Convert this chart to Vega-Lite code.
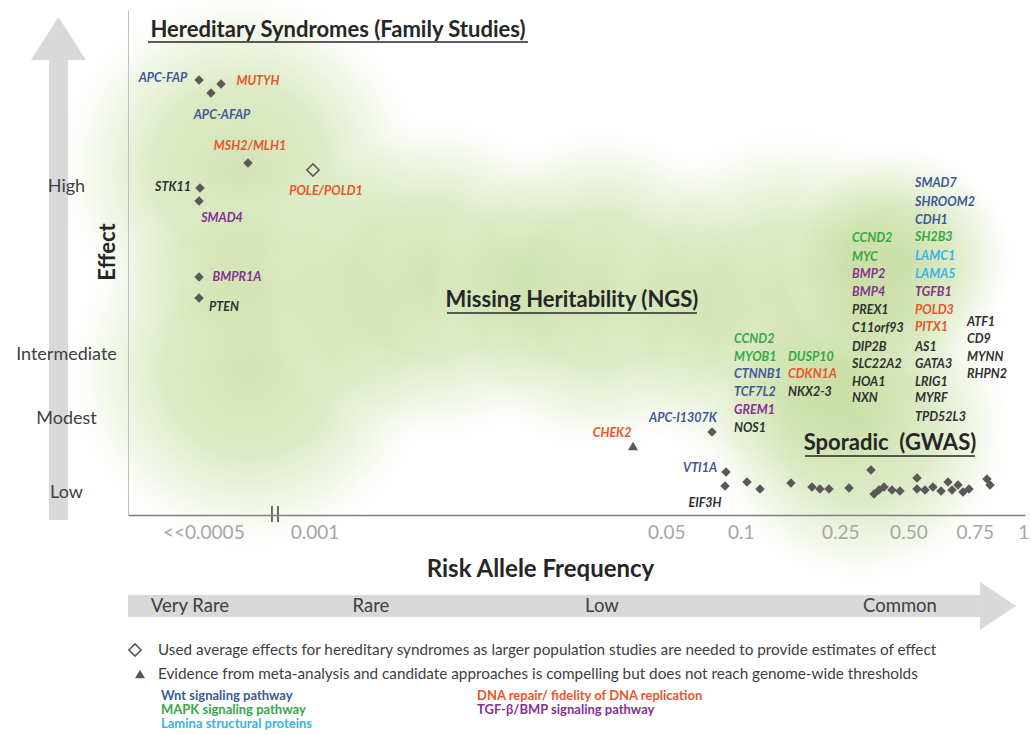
{
  "$schema": "https://vega.github.io/schema/vega-lite/v6.json",
  "width": 897,
  "height": 505,
  "autosize": {"type": "none"},
  "padding": {"left": 128, "top": 10, "right": 6, "bottom": 220},
  "background": "white",
  "config": {"view": {"stroke": null}, "font": "Lato", "text": {"font": "Lato"}},
  "datasets": {
    "blobs": [
      {"x": -8.7, "x2": 33.67, "y": 105.94, "y2": 30.69},
      {"x": -7.58, "x2": 34.78, "y": 66.34, "y2": -8.91},
      {"x": 14.72, "x2": 52.62, "y": 80.2, "y2": 12.87},
      {"x": 33.67, "x2": 71.57, "y": 78.22, "y2": 10.89},
      {"x": 52.62, "x2": 94.98, "y": 78.22, "y2": 2.97},
      {"x": 63.77, "x2": 99.44, "y": 48.51, "y2": -14.85},
      {"x": 72.69, "x2": 99.44, "y": 74.26, "y2": 26.73}
    ],
    "shafts": [
      {"part": "effect arrow", "x": -8.81, "x2": -6.69, "y": 90.1, "y2": -0.99},
      {"part": "frequency arrow", "x": 0, "x2": 94.98, "y": -15.84, "y2": -20.2}
    ],
    "heads": [
      {"dir": "up", "x": -7.75, "y": 94.36},
      {"dir": "right", "x": 96.99, "y": -18.02}
    ],
    "breaks": [
      {"x": 16.05, "y": 1.78, "y2": -1.39},
      {"x": 16.72, "y": 1.78, "y2": -1.39}
    ],
    "underlines": [
      {"x": 2.23, "x2": 44.59, "y": 93.66},
      {"x": 35.56, "x2": 63.43, "y": 40.0},
      {"x": 75.47, "x2": 94.43, "y": 11.68}
    ],
    "sections": [
      {"label": "Hereditary Syndromes (Family Studies)", "x": 23.41, "y": 96.04},
      {"label": "Missing Heritability (NGS)", "x": 49.5, "y": 42.57},
      {"label": "Sporadic\u00a0\u00a0(GWAS)", "x": 84.95, "y": 14.26}
    ],
    "points": [
      {"gene": "APC-FAP", "kind": "filled", "x": 7.92, "y": 86.14},
      {"gene": "APC-AFAP", "kind": "filled", "x": 9.25, "y": 83.56},
      {"gene": "MUTYH", "kind": "filled", "x": 10.37, "y": 85.35},
      {"gene": "MSH2/MLH1", "kind": "filled", "x": 13.38, "y": 69.7},
      {"gene": "POLE/POLD1", "kind": "open", "x": 20.62, "y": 68.32},
      {"gene": "STK11", "kind": "filled", "x": 8.03, "y": 64.75},
      {"gene": "SMAD4", "kind": "filled", "x": 7.92, "y": 62.18},
      {"gene": "BMPR1A", "kind": "filled", "x": 7.92, "y": 47.13},
      {"gene": "PTEN", "kind": "filled", "x": 7.92, "y": 42.97},
      {"gene": "APC-I1307K", "kind": "filled", "x": 65.11, "y": 16.44},
      {"gene": "CHEK2", "kind": "tri", "x": 56.3, "y": 13.66},
      {"gene": "VTI1A", "kind": "filled", "x": 66.67, "y": 8.51},
      {"gene": "EIF3H", "kind": "filled", "x": 66.56, "y": 5.74},
      {"gene": "GWAS", "kind": "filled", "x": 69.01, "y": 6.53},
      {"gene": "GWAS", "kind": "filled", "x": 70.46, "y": 5.15},
      {"gene": "GWAS", "kind": "filled", "x": 73.91, "y": 6.34},
      {"gene": "GWAS", "kind": "filled", "x": 76.25, "y": 5.54},
      {"gene": "GWAS", "kind": "filled", "x": 77.14, "y": 5.15},
      {"gene": "GWAS", "kind": "filled", "x": 78.15, "y": 5.15},
      {"gene": "GWAS", "kind": "filled", "x": 80.38, "y": 5.35},
      {"gene": "GWAS", "kind": "filled", "x": 82.83, "y": 8.91},
      {"gene": "GWAS", "kind": "filled", "x": 83.17, "y": 4.16},
      {"gene": "GWAS", "kind": "filled", "x": 83.72, "y": 4.95},
      {"gene": "GWAS", "kind": "filled", "x": 84.28, "y": 5.54},
      {"gene": "GWAS", "kind": "filled", "x": 85.17, "y": 4.95},
      {"gene": "GWAS", "kind": "filled", "x": 86.06, "y": 4.75},
      {"gene": "GWAS", "kind": "filled", "x": 87.96, "y": 7.33},
      {"gene": "GWAS", "kind": "filled", "x": 87.96, "y": 5.15},
      {"gene": "GWAS", "kind": "filled", "x": 88.85, "y": 4.95},
      {"gene": "GWAS", "kind": "filled", "x": 89.74, "y": 5.54},
      {"gene": "GWAS", "kind": "filled", "x": 90.64, "y": 4.75},
      {"gene": "GWAS", "kind": "filled", "x": 91.42, "y": 6.53},
      {"gene": "GWAS", "kind": "filled", "x": 91.86, "y": 4.95},
      {"gene": "GWAS", "kind": "filled", "x": 92.53, "y": 5.94},
      {"gene": "GWAS", "kind": "filled", "x": 93.09, "y": 4.55},
      {"gene": "GWAS", "kind": "filled", "x": 93.76, "y": 5.15},
      {"gene": "GWAS", "kind": "filled", "x": 95.76, "y": 7.13},
      {"gene": "GWAS", "kind": "filled", "x": 96.1, "y": 5.94},
      {"gene": "legend", "kind": "open", "x": 0.78, "y": -26.73},
      {"gene": "legend", "kind": "tri", "x": 1.34, "y": -31.49}
    ],
    "annot": [
      {"label": "APC-FAP", "path": "Wnt", "x": 3.9, "y": 86.53},
      {"label": "MUTYH", "path": "DNA", "x": 14.49, "y": 85.94},
      {"label": "APC-AFAP", "path": "Wnt", "x": 10.48, "y": 79.21},
      {"label": "MSH2/MLH1", "path": "DNA", "x": 13.6, "y": 73.07},
      {"label": "POLE/POLD1", "path": "DNA", "x": 22.07, "y": 64.16},
      {"label": "STK11", "path": "none", "x": 5.02, "y": 64.95},
      {"label": "SMAD4", "path": "TGF", "x": 10.48, "y": 58.81},
      {"label": "BMPR1A", "path": "TGF", "x": 12.15, "y": 47.13},
      {"label": "PTEN", "path": "none", "x": 10.7, "y": 41.19},
      {"label": "CHEK2", "path": "DNA", "x": 53.96, "y": 16.24},
      {"label": "APC-I1307K", "path": "Wnt", "x": 61.87, "y": 19.21},
      {"label": "VTI1A", "path": "Wnt", "x": 63.77, "y": 9.31},
      {"label": "EIF3H", "path": "none", "x": 64.33, "y": 2.38}
    ],
    "genes": [
      {"label": "CCND2", "path": "MAPK", "x": 67.56, "y": 34.85},
      {"label": "MYOB1", "path": "MAPK", "x": 67.56, "y": 31.29},
      {"label": "CTNNB1", "path": "Wnt", "x": 67.56, "y": 27.92},
      {"label": "TCF7L2", "path": "Wnt", "x": 67.56, "y": 24.36},
      {"label": "GREM1", "path": "TGF", "x": 67.56, "y": 20.79},
      {"label": "NOS1", "path": "none", "x": 67.56, "y": 17.23},
      {"label": "DUSP10", "path": "MAPK", "x": 73.58, "y": 31.29},
      {"label": "CDKN1A", "path": "DNA", "x": 73.58, "y": 27.92},
      {"label": "NKX2-3", "path": "none", "x": 73.58, "y": 24.36},
      {"label": "CCND2", "path": "MAPK", "x": 80.71, "y": 54.85},
      {"label": "MYC", "path": "MAPK", "x": 80.71, "y": 51.09},
      {"label": "BMP2", "path": "TGF", "x": 80.71, "y": 47.72},
      {"label": "BMP4", "path": "TGF", "x": 80.71, "y": 44.16},
      {"label": "PREX1", "path": "none", "x": 80.71, "y": 40.59},
      {"label": "C11orf93", "path": "none", "x": 80.71, "y": 37.03},
      {"label": "DIP2B", "path": "none", "x": 80.71, "y": 33.27},
      {"label": "SLC22A2", "path": "none", "x": 80.71, "y": 29.9},
      {"label": "HOA1", "path": "none", "x": 80.71, "y": 26.34},
      {"label": "NXN", "path": "none", "x": 80.71, "y": 23.17},
      {"label": "SMAD7", "path": "Wnt", "x": 87.74, "y": 65.74},
      {"label": "SHROOM2", "path": "Wnt", "x": 87.74, "y": 61.98},
      {"label": "CDH1", "path": "Wnt", "x": 87.74, "y": 58.42},
      {"label": "SH2B3", "path": "MAPK", "x": 87.74, "y": 55.05},
      {"label": "LAMC1", "path": "Lamina", "x": 87.74, "y": 51.29},
      {"label": "LAMA5", "path": "Lamina", "x": 87.74, "y": 47.72},
      {"label": "TGFB1", "path": "TGF", "x": 87.74, "y": 44.16},
      {"label": "POLD3", "path": "DNA", "x": 87.74, "y": 40.59},
      {"label": "PITX1", "path": "DNA", "x": 87.74, "y": 37.23},
      {"label": "AS1", "path": "none", "x": 87.74, "y": 33.27},
      {"label": "GATA3", "path": "none", "x": 87.74, "y": 29.9},
      {"label": "LRIG1", "path": "none", "x": 87.74, "y": 26.34},
      {"label": "MYRF", "path": "none", "x": 87.74, "y": 23.17},
      {"label": "TPD52L3", "path": "none", "x": 87.74, "y": 19.41},
      {"label": "ATF1", "path": "none", "x": 93.53, "y": 38.22},
      {"label": "CD9", "path": "none", "x": 93.53, "y": 34.85},
      {"label": "MYNN", "path": "none", "x": 93.53, "y": 31.29},
      {"label": "RHPN2", "path": "none", "x": 93.53, "y": 27.92}
    ],
    "effect": [{"label": "Effect", "x": -2.23, "y": 52.08}],
    "bar": [
      {"label": "Very Rare", "x": 6.91, "y": -18.02},
      {"label": "Rare", "x": 27.09, "y": -18.02},
      {"label": "Low", "x": 52.84, "y": -18.02},
      {"label": "Common", "x": 86.06, "y": -18.02}
    ],
    "notes": [
      {"label": "Used average effects for hereditary syndromes as larger population studies are needed to provide estimates of effect", "x": 3.34, "y": -26.73},
      {"label": "Evidence from meta-analysis and candidate approaches is compelling but does not reach genome-wide thresholds", "x": 3.34, "y": -31.49}
    ],
    "pathways": [
      {"label": "Wnt signaling pathway", "path": "Wnt", "x": 3.68, "y": -35.84},
      {"label": "MAPK signaling pathway", "path": "MAPK", "x": 3.68, "y": -38.61},
      {"label": "Lamina structural proteins", "path": "Lamina", "x": 3.68, "y": -41.39},
      {"label": "DNA repair/ fidelity of DNA replication", "path": "DNA", "x": 38.91, "y": -35.84},
      {"label": "TGF-β/BMP signaling pathway", "path": "TGF", "x": 38.91, "y": -38.61}
    ]
  },
  "encoding": {
    "x": {
      "field": "x", "type": "quantitative",
      "scale": {"domain": [0, 100], "nice": false, "zero": false},
      "axis": {
        "values": [8.4, 20.8, 60, 68.3, 79.4, 87, 94.4, 99.8],
        "labelExpr": "datum.value < 10 ? '<<0.0005' : datum.value < 30 ? '0.001' : datum.value < 65 ? '0.05' : datum.value < 75 ? '0.1' : datum.value < 83 ? '0.25' : datum.value < 90 ? '0.50' : datum.value < 97 ? '0.75' : '1'",
        "ticks": false, "tickSize": 0, "grid": false,
        "domainColor": "#7f7f7f", "domainWidth": 1.5,
        "labelFont": "Lato", "labelFontSize": 19, "labelColor": "#a6a6a6",
        "labelBaseline": "middle", "labelPadding": 17, "labelOverlap": false, "labelFlush": false,
        "title": "Risk Allele Frequency", "titleFont": "Lato", "titleFontSize": 24,
        "titleFontWeight": "bold", "titleColor": "#262626", "titlePadding": 15, "titleX": 412,
        "zindex": 1
      }
    },
    "y": {
      "field": "y", "type": "quantitative",
      "scale": {"domain": [0, 100], "nice": false, "zero": false},
      "axis": {
        "values": [4.5, 19.2, 31.7, 65],
        "labelExpr": "datum.value > 50 ? 'High' : datum.value > 25 ? 'Intermediate' : datum.value > 10 ? 'Modest' : 'Low'",
        "ticks": false, "tickSize": 0, "grid": false,
        "domainColor": "#bfbfbf", "domainWidth": 1,
        "labelFont": "Lato", "labelFontSize": 18, "labelColor": "#404040",
        "labelAlign": "center", "labelBaseline": "middle", "labelPadding": 62, "labelOverlap": false,
        "title": null, "zindex": 1
      }
    }
  },
  "layer": [
    {
      "data": {"name": "blobs"},
      "mark": {"type": "rect", "fill": {"gradient": "radial", "stops": [
        {"offset": 0, "color": "rgba(184,211,136,0.62)"},
        {"offset": 0.45, "color": "rgba(190,216,146,0.52)"},
        {"offset": 0.75, "color": "rgba(205,226,170,0.25)"},
        {"offset": 1, "color": "rgba(255,255,255,0)"}]}},
      "encoding": {"x2": {"field": "x2"}, "y2": {"field": "y2"}}
    },
    {
      "data": {"name": "shafts"},
      "mark": {"type": "rect", "color": "#d9d9d9"},
      "encoding": {"x2": {"field": "x2"}, "y2": {"field": "y2"}}
    },
    {
      "data": {"name": "heads"},
      "mark": {"type": "point", "filled": true, "color": "#d9d9d9", "opacity": 1, "size": 3025},
      "encoding": {"shape": {"field": "dir", "type": "nominal", "legend": null,
        "scale": {"domain": ["up", "right"], "range": ["M0,-0.78L1,0.78L-1,0.78Z", "M-0.655,-0.873L0.655,0L-0.655,0.873Z"]}}}
    },
    {
      "data": {"name": "breaks"},
      "mark": {"type": "rule", "color": "#404040", "strokeWidth": 1.5},
      "encoding": {"y2": {"field": "y2"}}
    },
    {
      "data": {"name": "underlines"},
      "mark": {"type": "rule", "color": "#262626", "strokeWidth": 1.5},
      "encoding": {"x2": {"field": "x2"}}
    },
    {
      "data": {"name": "sections"},
      "mark": {"type": "text", "fontWeight": "bold", "fontSize": 22, "color": "#262626", "align": "center", "baseline": "middle"},
      "encoding": {"text": {"field": "label"}}
    },
    {
      "data": {"name": "points"},
      "transform": [{"filter": "datum.kind === 'filled'"}],
      "mark": {"type": "point", "shape": "diamond", "filled": true, "color": "#595959", "opacity": 1, "size": 90}
    },
    {
      "data": {"name": "points"},
      "transform": [{"filter": "datum.kind === 'open'"}],
      "mark": {"type": "point", "shape": "diamond", "filled": false, "stroke": "#595959", "strokeWidth": 1.6, "opacity": 1, "size": 150}
    },
    {
      "data": {"name": "points"},
      "transform": [{"filter": "datum.kind === 'tri'"}],
      "mark": {"type": "point", "shape": "triangle-up", "filled": true, "color": "#595959", "opacity": 1, "size": 100}
    },
    {
      "data": {"name": "annot"},
      "mark": {"type": "text", "fontStyle": "italic", "fontWeight": "bold", "fontSize": 12.5, "align": "center", "baseline": "middle"},
      "encoding": {
        "text": {"field": "label"},
        "color": {"field": "path", "type": "nominal", "legend": null,
          "scale": {"domain": ["Wnt", "MAPK", "Lamina", "DNA", "TGF", "none"], "range": ["#3c5a96", "#35a844", "#35b4e6", "#e8562a", "#86318f", "#303030"]}}
      }
    },
    {
      "data": {"name": "genes"},
      "mark": {"type": "text", "fontStyle": "italic", "fontWeight": "bold", "fontSize": 12.5, "align": "left", "baseline": "middle"},
      "encoding": {
        "text": {"field": "label"},
        "color": {"field": "path", "type": "nominal", "legend": null}
      }
    },
    {
      "data": {"name": "effect"},
      "mark": {"type": "text", "angle": 270, "fontWeight": "bold", "fontSize": 22, "color": "#262626", "align": "center", "baseline": "middle"},
      "encoding": {"text": {"field": "label"}}
    },
    {
      "data": {"name": "bar"},
      "mark": {"type": "text", "fontSize": 18.5, "color": "#404040", "align": "center", "baseline": "middle"},
      "encoding": {"text": {"field": "label"}}
    },
    {
      "data": {"name": "notes"},
      "mark": {"type": "text", "fontSize": 15.3, "color": "#404040", "align": "left", "baseline": "middle"},
      "encoding": {"text": {"field": "label"}}
    },
    {
      "data": {"name": "pathways"},
      "mark": {"type": "text", "fontWeight": "bold", "fontSize": 13, "align": "left", "baseline": "middle"},
      "encoding": {
        "text": {"field": "label"},
        "color": {"field": "path", "type": "nominal", "legend": null}
      }
    }
  ]
}
